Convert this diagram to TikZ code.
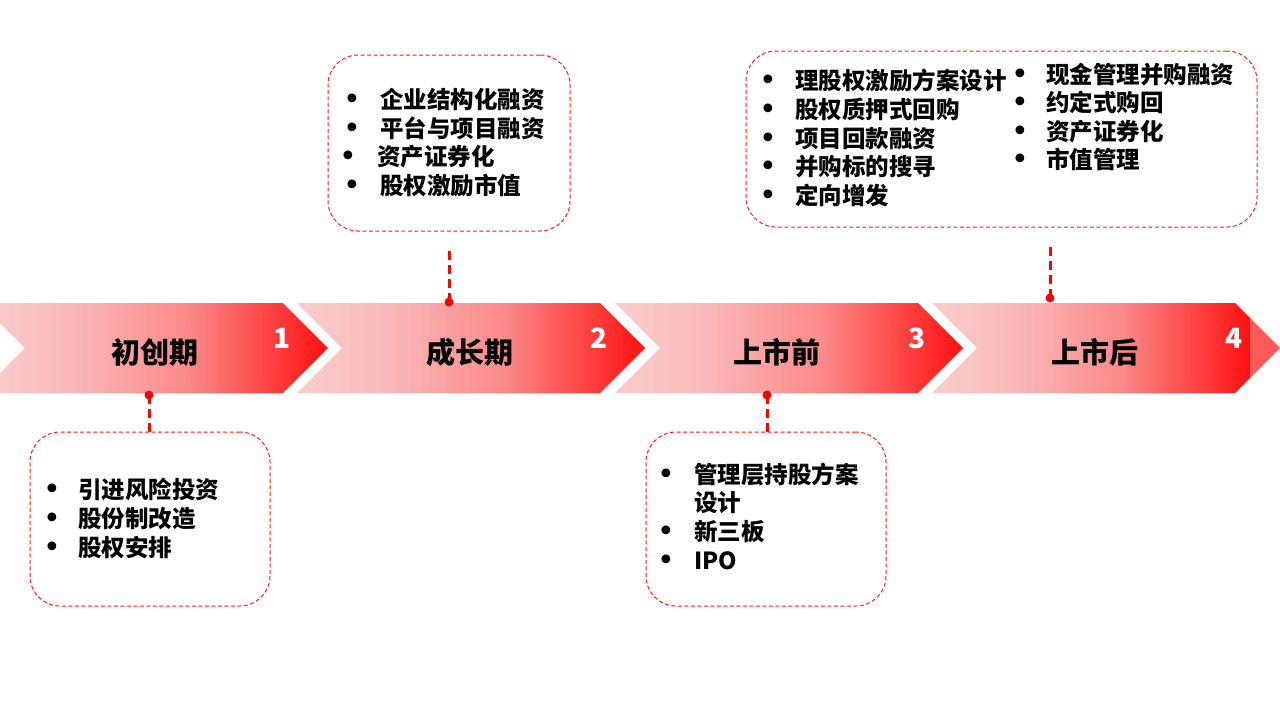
\documentclass[tikz,border=0pt]{standalone}
\usepackage{fontspec}
\setmainfont{Noto Sans CJK SC}
\newfontfamily\dvfont{DejaVu Sans}
\definecolor{cA}{HTML}{F9CDCD}
\definecolor{cB}{HTML}{FAB9B9}
\definecolor{cC}{HTML}{FC8888}
\definecolor{cD}{HTML}{FF1010}
\definecolor{tipc}{HTML}{FF5A5A}
\definecolor{lred}{HTML}{FF1A1A}
\pgfdeclarehorizontalshading{chev}{100bp}{color(0bp)=(cA); color(25bp)=(cA); color(38bp)=(cB); color(55bp)=(cC); color(75bp)=(cD); color(100bp)=(cD)}
\tikzset{
  chevron/.style={shading=chev, draw=none},
  stage/.style={font=\fontsize{29}{32}\selectfont\bfseries, text=black, inner sep=0pt},
  num/.style={font=\fontsize{28}{32}\selectfont\bfseries, text=white, inner sep=0pt},
  box/.style={draw=lred, line width=1pt, dash pattern=on 4pt off 2.5pt, rounded corners=30pt, inner sep=0pt},
  itm/.style={font=\fontsize{23.5}{28}\selectfont\bfseries, anchor=west, inner sep=0pt, text height=20pt, text depth=3pt},
  bul/.style={font=\dvfont\fontsize{30}{34}\selectfont, anchor=center, inner sep=0pt, text height=19pt, text depth=0pt},
  conn/.style={draw=red, line width=3pt, dash pattern=on 9pt off 5pt},
  dot/.style={circle, fill=red, inner sep=0pt, minimum size=9pt},
}
\newcommand\itemline[5]{%
  \node[bul] (b#1) at (#2,#4) {•};
  \node[itm] (t#1) at (#3,#4) {#5};}
\begin{document}
\begin{tikzpicture}[x=1pt,y=-1pt]
\useasboundingbox (0,0) rectangle (1280,720);
\fill[white] (0,0) rectangle (1280,720);
\begin{scope}
\clip (0,0) rectangle (1280,720);
% chevrons
\path[chevron] (-20,303) -- (283,303) -- (328,348) -- (283,393) -- (-20,393) -- (25,348) -- cycle;
\path[chevron] (297,303) -- (600,303) -- (645,348) -- (600,393) -- (297,393) -- (342,348) -- cycle;
\path[chevron] (615,303) -- (918,303) -- (963,348) -- (918,393) -- (615,393) -- (660,348) -- cycle;
\path[chevron] (932,303) -- (1235,303) -- (1250,318) -- (1250,378) -- (1235,393) -- (932,393) -- (977,348) -- cycle;
\fill[tipc] (1250,318) -- (1280,348) -- (1250,378) -- cycle;
\end{scope}
% stage labels
\node[stage] (s1) at (155,352) {初创期};
\node[stage] (s2) at (470,352) {成长期};
\node[stage] (s3) at (777,352) {上市前};
\node[stage] (s4) at (1095,352) {上市后};
\node[num] (n1) at (282,338) {1};
\node[num] (n2) at (599,338) {2};
\node[num] (n3) at (917,338) {3};
\node[num] (n4) at (1234,338) {4};
% boxes
\node[box, minimum width=240pt, minimum height=174pt] (box1) at (150,519) {};
\node[box, minimum width=242pt, minimum height=176pt] (box2) at (449,143) {};
\node[box, minimum width=511pt, minimum height=176pt] (box3) at (1001.5,139) {};
\node[box, minimum width=240pt, minimum height=174pt] (box4) at (766,519) {};
% connectors
\node[dot] (d1) at (149,395) {};
\node[dot] (d2) at (449,302) {};
\node[dot] (d3) at (767,395) {};
\node[dot] (d4) at (1050,298) {};
\coordinate (e2) at (449,248);
\coordinate (e4) at (1050,243);
\draw[conn] (d1.center) -- (d1.center |- box1.north);
\draw[conn] (d2.center) -- (e2);
\draw[conn] (d3.center) -- (d3.center |- box4.north);
\draw[conn] (d4.center) -- (e4);
% box 1 text
\itemline{a1}{52}{78}{490}{引进风险投资}
\itemline{a2}{52}{78}{519}{股份制改造}
\itemline{a3}{52}{78}{548}{股权安排}
% box 2 text
\itemline{b1}{352}{380}{100}{企业结构化融资}
\itemline{b2}{352}{380}{129}{平台与项目融资}
\itemline{b3}{348}{377}{157}{资产证券化}
\itemline{b4}{352}{380}{186}{股权激励市值}
% box 3 text
\itemline{c1}{768}{795}{81}{理股权激励方案设计}
\itemline{c2}{768}{795}{110}{股权质押式回购}
\itemline{c3}{768}{795}{139}{项目回款融资}
\itemline{c4}{768}{795}{167}{并购标的搜寻}
\itemline{c5}{768}{795}{196}{定向增发}
\itemline{c6}{1020}{1046}{75}{现金管理并购融资}
\itemline{c7}{1020}{1046}{103}{约定式购回}
\itemline{c8}{1020}{1046}{132}{资产证券化}
\itemline{c9}{1020}{1046}{160}{市值管理}
% box 4 text
\itemline{f1}{666}{694}{475}{管理层持股方案}
\node[itm] (f1b) at (694,503) {设计};
\itemline{f2}{666}{694}{532}{新三板}
\itemline{f3}{666}{694}{561}{IPO}
\end{tikzpicture}
\end{document}
